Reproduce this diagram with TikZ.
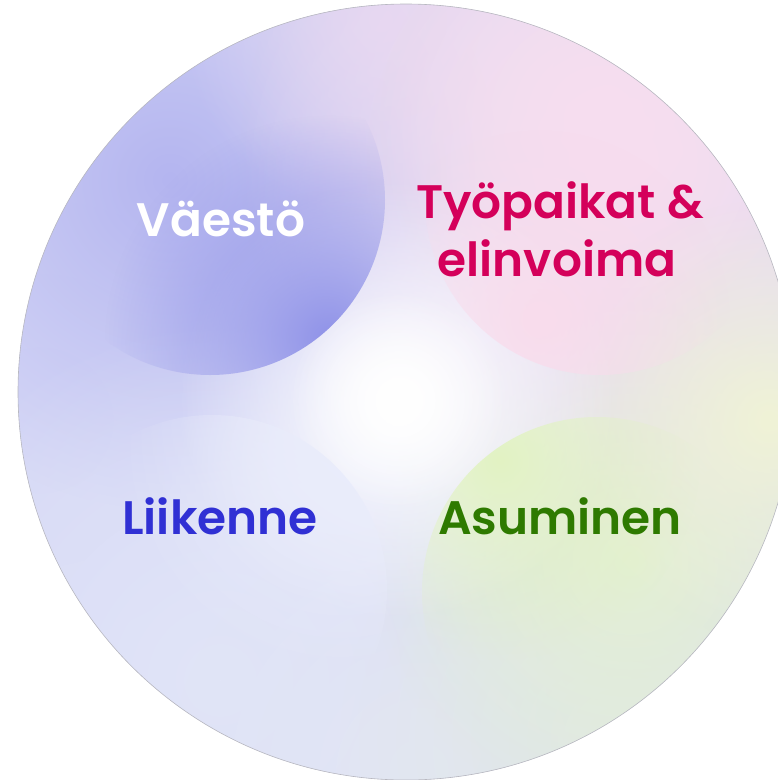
\documentclass[tikz,border=0pt]{standalone}
\usepackage{fontspec}
\newfontfamily\lblfont{Poppins SemiBold}
\usetikzlibrary{fadings}
\tikzfading[name=softglow, inner color=transparent!0, outer color=transparent!100]
\definecolor{bgbase}{HTML}{D9DBF6}
\definecolor{gtl}{HTML}{B4B5F0}
\definecolor{gtop}{HTML}{E2D6F2}
\definecolor{gtr}{HTML}{F7DEEF}
\definecolor{gright}{HTML}{F0F3D6}
\definecolor{ggreen}{HTML}{E4F1D2}
\definecolor{gbr}{HTML}{E1E9E5}
\definecolor{gbl}{HTML}{E1E5F8}
\definecolor{gbot}{HTML}{E3E7F4}
\definecolor{gleft}{HTML}{D6D8F6}
\definecolor{bvaesto}{HTML}{8E91E8}
\definecolor{bpink}{HTML}{F9DCEC}
\definecolor{bgreen}{HTML}{E2F3C3}
\definecolor{bliik}{HTML}{E9ECFB}
\definecolor{cwhite}{HTML}{FFFFFF}
\definecolor{cpink}{HTML}{D4005A}
\definecolor{cblue}{HTML}{3030D4}
\definecolor{cgreen}{HTML}{2E7A00}
\definecolor{rim}{HTML}{B8B8C0}
\tikzset{
  glow/.style={fill=#1, path fading=softglow},
  lbl/.style={font=\lblfont\fontsize{47}{58}\selectfont, inner sep=0pt, align=center}
}
\begin{document}
\begin{tikzpicture}[x=1pt,y=-1pt]
\useasboundingbox (0,0) rectangle (778,780);
\begin{scope}
  \clip (406,392) circle [radius=388pt];
  \fill[bgbase] (0,0) rectangle (800,800);
  \fill[glow=gleft] (40,420) circle [radius=220pt];
  \fill[glow=gtl] (170,180) circle [radius=330pt];
  \fill[glow=gbl] (220,680) circle [radius=360pt];
  \fill[glow=gbot] (420,770) circle [radius=250pt];
  \fill[glow=gbr] (620,740) circle [radius=280pt];
  \fill[glow=ggreen] (630,560) circle [radius=260pt];
  \fill[glow=gtop] (380,20) circle [radius=200pt];
  \fill[glow=gtr] (620,160) circle [radius=380pt];
  \fill[glow=gtr] (600,120) circle [radius=220pt];
  \fill[glow=gright] (770,420) circle [radius=220pt];
  \fill[glow=cwhite] (398,400) circle [radius=220pt];
  \fill[glow=cwhite] (398,400) circle [radius=110pt];
  % quarter blobs
  \begin{scope}
    \clip (210,200) circle [radius=175pt];
    \fill[glow=bvaesto] (330,340) circle [radius=225pt];
  \end{scope}
  \begin{scope}
    \clip (600,200) circle [radius=175pt];
    \fill[glow=bpink] (540,320) circle [radius=190pt];
  \end{scope}
  \begin{scope}
    \clip (597,592) circle [radius=175pt];
    \fill[glow=bgreen] (500,460) circle [radius=200pt];
  \end{scope}
  \begin{scope}
    \clip (212,590) circle [radius=175pt];
    \fill[glow=bliik] (340,460) circle [radius=220pt];
  \end{scope}
\end{scope}
\draw[rim, line width=0.6pt] (406,392) circle [radius=388pt];
\node[lbl, text=cwhite, anchor=base] (vaesto) at (221,236) {Väestö};
\node[lbl, text=cpink, anchor=base] (tyo) at (560,218) {Työpaikat \&};
\node[lbl, text=cpink, anchor=base] (elin) at (557,276) {elinvoima};
\node[lbl, text=cblue, anchor=base] (liik) at (220,534) {Liikenne};
\node[lbl, text=cgreen, anchor=base] (asum) at (560,534) {Asuminen};
\end{tikzpicture}
\end{document}
